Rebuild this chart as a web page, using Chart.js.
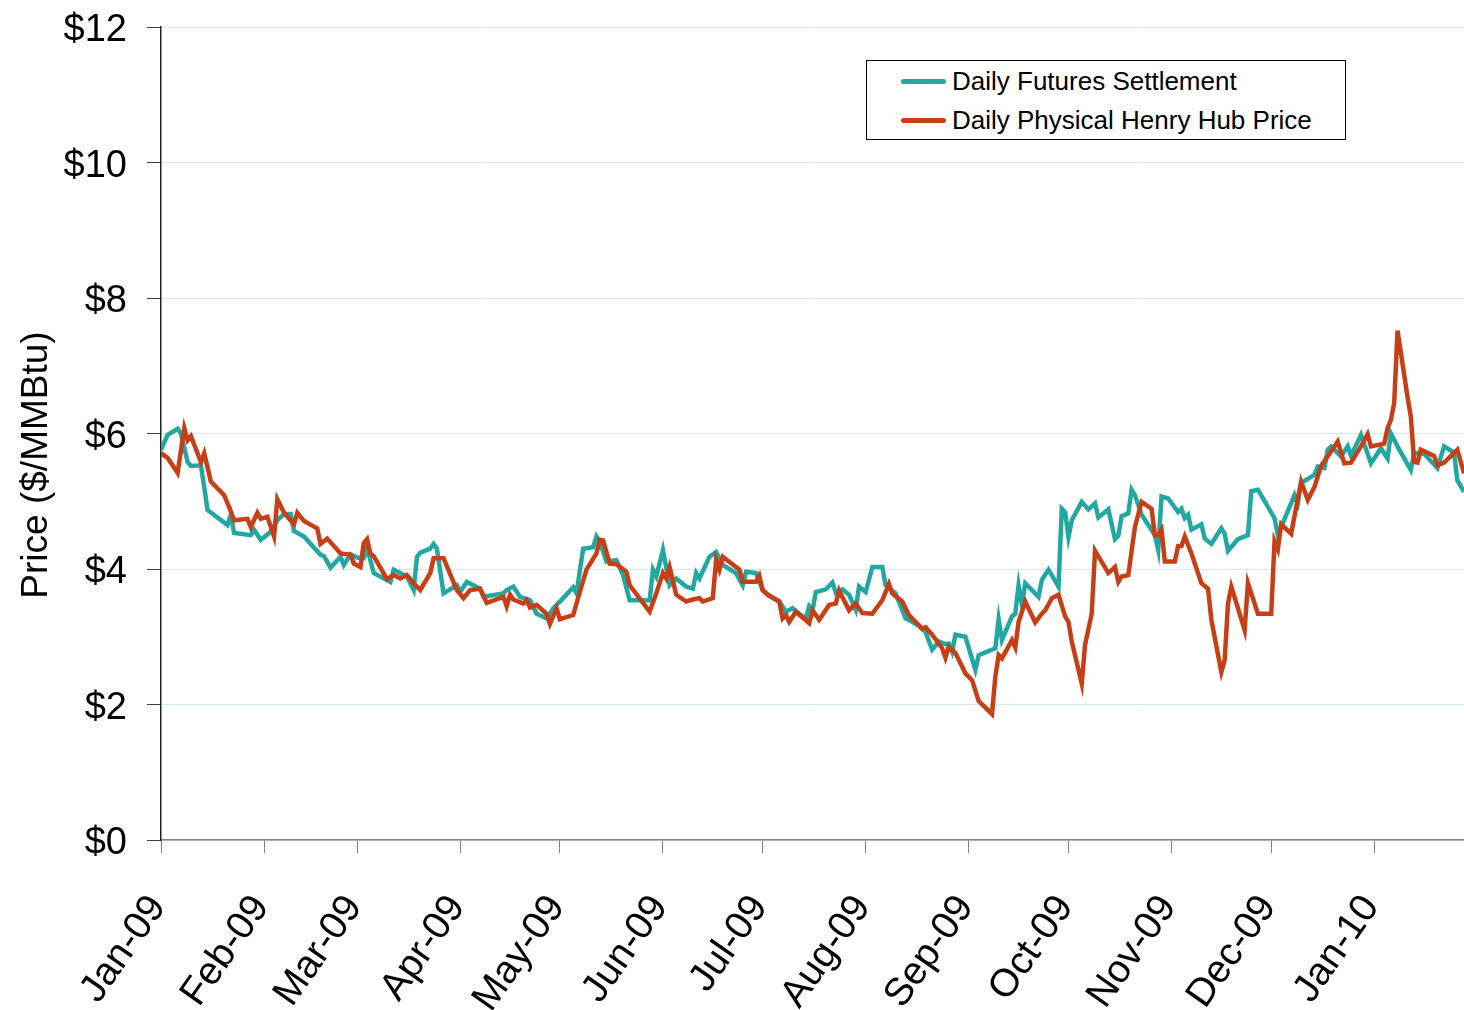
<!DOCTYPE html>
<html>
<head>
<meta charset="utf-8">
<script src="https://cdn.jsdelivr.net/npm/chart.js@4/dist/chart.umd.min.js"></script>
<style>
  html, body { margin: 0; padding: 0; background: #fff; }
  #wrap { position: relative; width: 1464px; height: 1010px; }
  #legend {
    position: absolute; left: 866px; top: 60px; width: 480px; height: 80px;
    border: 1px solid #000; background: #fff; box-sizing: border-box;
    font-family: "Liberation Sans", Arial, sans-serif; font-size: 26px; color: #000;
  }
  .item { position: absolute; left: 34px; height: 30px; display: flex; align-items: center; white-space: nowrap; }
  .swatch { width: 45px; height: 5px; border-radius: 3px; margin-right: 6px; }
</style>
</head>
<body>
<div id="wrap">
  <canvas id="priceChart" width="1464" height="1010"></canvas>
  <div id="legend"></div>
</div>
<script>
/* ─── Data (x = days since 1 Jan 2009) ─── */
const monthStarts = [0, 31, 59, 90, 120, 151, 181, 212, 243, 273, 304, 334, 365];
const monthLabels = ["Jan-09", "Feb-09", "Mar-09", "Apr-09", "May-09", "Jun-09",
  "Jul-09", "Aug-09", "Sep-09", "Oct-09", "Nov-09", "Dec-09", "Jan-10"];
const yTicks = [0, 2, 4, 6, 8, 10, 12];
const yTitle = "Price ($/MMBtu)";

const futuresDays = [0, 2, 5, 6, 8, 9, 12, 13, 14, 20, 21, 22, 27, 28, 30, 33, 35, 37, 39, 40,
  43, 48, 49, 51, 54, 55, 57, 59, 61, 62, 64, 69, 70, 74, 76, 77, 78, 81, 82, 83,
  85, 89, 90, 92, 96, 97, 103, 104, 106, 108, 111, 113, 116, 118, 121, 124, 125, 127, 130, 131,
  132, 134, 137, 139, 141, 147, 148, 149, 151, 153, 155, 158, 160, 161, 162, 165, 167, 169, 173, 175,
  176, 179, 181, 183, 186, 188, 190, 192, 194, 195, 196, 197, 200, 202, 203, 205, 207, 209, 210, 212,
  214, 217, 218, 221, 224, 226, 228, 230, 232, 234, 236, 237, 238, 239, 242, 245, 246, 251, 252, 253,
  256, 257, 258, 259, 260, 264, 265, 267, 270, 271, 272, 273, 274, 277, 279, 281, 282, 285, 287, 288,
  289, 291, 292, 293, 295, 299, 300, 301, 303, 306, 307, 308, 309, 310, 313, 314, 316, 319, 320, 321,
  324, 327, 328, 330, 335, 336, 341, 342, 343, 347, 348, 350, 351, 352, 355, 357, 358, 361, 364, 367,
  369, 370, 372, 376, 377, 380, 384, 386, 389, 390, 392];
const futuresPrice = [5.76, 5.98, 6.07, 6.00, 5.58, 5.52, 5.53, 5.21, 4.87, 4.65, 4.80, 4.53, 4.50, 4.58, 4.43, 4.55, 4.72, 4.81, 4.81, 4.56,
  4.48, 4.21, 4.19, 4.02, 4.18, 4.06, 4.22, 4.17, 4.16, 4.31, 3.94, 3.81, 3.99, 3.89, 3.69, 4.18, 4.24, 4.30, 4.37, 4.30,
  3.64, 3.76, 3.66, 3.81, 3.71, 3.59, 3.64, 3.69, 3.74, 3.59, 3.54, 3.34, 3.27, 3.42, 3.57, 3.73, 3.64, 4.30, 4.32, 4.48,
  4.40, 4.11, 4.13, 3.91, 3.54, 3.54, 3.99, 3.89, 4.28, 3.76, 3.86, 3.74, 3.71, 3.94, 3.86, 4.18, 4.25, 4.06, 3.94, 3.76,
  3.96, 3.94, 3.69, 3.60, 3.52, 3.37, 3.42, 3.34, 3.27, 3.45, 3.39, 3.66, 3.70, 3.80, 3.65, 3.70, 3.62, 3.40, 3.74, 3.66,
  4.03, 4.03, 3.76, 3.64, 3.27, 3.22, 3.16, 3.07, 2.81, 2.93, 2.89, 2.90, 2.78, 3.03, 3.00, 2.51, 2.73, 2.83, 3.26, 2.95,
  3.30, 3.34, 3.76, 3.47, 3.79, 3.59, 3.84, 3.99, 3.74, 4.89, 4.84, 4.47, 4.72, 4.99, 4.88, 4.97, 4.76, 4.88, 4.44, 4.49,
  4.78, 4.82, 5.17, 5.09, 4.80, 4.50, 4.28, 5.07, 5.04, 4.84, 4.89, 4.75, 4.80, 4.58, 4.66, 4.45, 4.37, 4.60, 4.52, 4.27,
  4.44, 4.50, 5.15, 5.17, 4.75, 4.50, 5.09, 4.97, 5.27, 5.39, 5.51, 5.49, 5.76, 5.81, 5.66, 5.81, 5.67, 5.98, 5.56, 5.78,
  5.63, 6.00, 5.81, 5.46, 5.71, 5.70, 5.49, 5.81, 5.72, 5.31, 5.14];

const physicalDays = [0, 2, 5, 7, 8, 9, 12, 13, 15, 19, 21, 22, 26, 27, 29, 30, 32, 34, 35, 37,
  40, 41, 43, 47, 48, 50, 54, 57, 58, 60, 61, 62, 63, 64, 68, 70, 72, 74, 76, 78,
  81, 82, 85, 89, 91, 93, 96, 98, 103, 104, 105, 106, 109, 110, 111, 113, 116, 117, 119, 120,
  124, 126, 128, 131, 132, 133, 135, 137, 140, 141, 147, 149, 151, 152, 153, 155, 158, 160, 162, 163,
  166, 167, 168, 169, 174, 175, 179, 180, 181, 182, 186, 187, 188, 189, 191, 195, 196, 198, 201, 203,
  204, 207, 209, 211, 214, 217, 219, 220, 223, 225, 229, 230, 232, 235, 236, 237, 239, 242, 244, 246,
  250, 251, 252, 253, 256, 257, 258, 260, 263, 265, 266, 268, 270, 272, 273, 274, 277, 278, 280, 281,
  285, 287, 288, 289, 291, 293, 295, 298, 299, 300, 301, 302, 305, 306, 307, 308, 310, 313, 315, 316,
  319, 320, 321, 322, 326, 327, 330, 334, 335, 336, 337, 340, 343, 345, 347, 349, 354, 356, 358, 361,
  363, 364, 368, 369, 370, 371, 372, 375, 376, 377, 378, 379, 383, 384, 386, 390, 392];
const physicalPrice = [5.71, 5.64, 5.42, 6.08, 5.90, 5.96, 5.58, 5.71, 5.29, 5.09, 4.85, 4.72, 4.74, 4.62, 4.83, 4.74, 4.77, 4.48, 5.03, 4.83,
  4.66, 4.83, 4.71, 4.60, 4.37, 4.45, 4.23, 4.21, 4.08, 4.03, 4.38, 4.44, 4.23, 4.19, 3.85, 3.91, 3.86, 3.91, 3.79, 3.69,
  3.94, 4.16, 4.16, 3.69, 3.57, 3.69, 3.71, 3.50, 3.59, 3.45, 3.62, 3.55, 3.49, 3.54, 3.43, 3.47, 3.34, 3.19, 3.42, 3.26,
  3.32, 3.66, 3.99, 4.23, 4.43, 4.42, 4.08, 4.07, 3.96, 3.76, 3.37, 3.64, 3.94, 3.86, 4.03, 3.62, 3.52, 3.55, 3.57, 3.52,
  3.57, 4.13, 3.99, 4.18, 3.99, 3.81, 3.81, 3.90, 3.69, 3.64, 3.52, 3.27, 3.32, 3.22, 3.37, 3.20, 3.39, 3.25, 3.47, 3.49,
  3.68, 3.39, 3.49, 3.35, 3.34, 3.54, 3.78, 3.64, 3.52, 3.32, 3.12, 3.14, 3.03, 2.83, 2.69, 2.85, 2.76, 2.46, 2.36, 2.05,
  1.86, 2.41, 2.73, 2.68, 2.95, 2.84, 3.22, 3.52, 3.21, 3.34, 3.39, 3.57, 3.62, 3.30, 3.22, 2.93, 2.31, 2.88, 3.34, 4.27,
  3.94, 4.03, 3.81, 3.89, 3.91, 4.62, 4.99, 4.89, 4.50, 4.50, 4.58, 4.11, 4.11, 4.34, 4.34, 4.48, 4.23, 3.79, 3.71, 3.25,
  2.48, 2.66, 3.49, 3.74, 3.10, 3.79, 3.34, 3.34, 4.41, 4.29, 4.66, 4.52, 5.29, 5.02, 5.21, 5.52, 5.88, 5.56, 5.57, 5.81,
  5.99, 5.81, 5.85, 6.08, 6.20, 6.45, 7.52, 6.54, 6.25, 5.58, 5.57, 5.76, 5.67, 5.53, 5.57, 5.76, 5.41];

const toPoints = (xs, ys) => xs.map((x, i) => ({ x: x, y: ys[i] }));

/* ─── Chart ─── */
const FONT = "'Liberation Sans', Arial, sans-serif";
Chart.defaults.font.family = FONT;
Chart.defaults.color = "#000";

// y-axis title, drawn a little below the plot centre like the original
const yTitlePlugin = {
  id: "yTitle",
  afterDraw(chart) {
    const c = chart.ctx;
    c.save();
    c.translate(37, 465);
    c.rotate(-Math.PI / 2);
    c.font = "37px " + FONT;
    c.fillStyle = "#000";
    c.textAlign = "center";
    c.textBaseline = "middle";
    c.fillText(yTitle, 0, 0);
    c.restore();
  },
};

const ctx = document.getElementById("priceChart");
const chart = new Chart(ctx, {
  type: "line",
  data: {
    datasets: [
      {
        label: "Daily Futures Settlement",
        data: toPoints(futuresDays, futuresPrice),
        borderColor: "#22a8a1",
        backgroundColor: "#22a8a1",
        borderWidth: 4.5,
        pointRadius: 0,
        tension: 0,
        order: 1,
      },
      {
        label: "Daily Physical Henry Hub Price",
        data: toPoints(physicalDays, physicalPrice),
        borderColor: "#c63f16",
        backgroundColor: "#c63f16",
        borderWidth: 4.5,
        pointRadius: 0,
        tension: 0,
        order: 0,
      },
    ],
  },
  plugins: [yTitlePlugin],
  options: {
    responsive: false,
    animation: false,
    layout: { padding: { top: 27, right: 0, left: 0, bottom: 0 } },
    plugins: {
      legend: { display: false },
      tooltip: { enabled: false },
    },
    scales: {
      x: {
        type: "linear",
        min: 0,
        max: 392,
        afterBuildTicks: (scale) => {
          scale.ticks = monthStarts.map((v) => ({ value: v }));
        },
        afterFit: (scale) => { scale.height = 170; },
        ticks: {
          autoSkip: false,
          minRotation: 55,
          maxRotation: 55,
          padding: 34,
          labelOffset: -3,
          font: { size: 39 },
          color: "#000",
          callback: (v) => monthLabels[monthStarts.indexOf(v)],
        },
        grid: {
          drawOnChartArea: false,
          tickLength: 13,
          tickColor: "#808080",
          color: "#808080",
        },
        border: { color: "#808080", width: 1.5 },
      },
      y: {
        min: 0,
        max: 12,
        afterBuildTicks: (scale) => {
          scale.ticks = yTicks.map((v) => ({ value: v }));
        },
        afterFit: (scale) => {
          scale.width = 161;
          scale.paddingTop = 0;
          scale.paddingBottom = 0;
        },
        ticks: {
          padding: 20,
          labelOffset: 4,
          font: { size: 38 },
          color: "#000",
          callback: (v) => "$" + v,
        },
        grid: {
          color: "#d6e8e8",
          lineWidth: 1,
          tickLength: 14,
          tickColor: "#404040",
        },
        border: { color: "#202020", width: 1.5 },
      },
    },
  },
});

/* ─── Legend ─── */
const legend = document.getElementById("legend");
chart.data.datasets.forEach((ds, i) => {
  const row = document.createElement("div");
  row.className = "item";
  row.style.top = (5 + i * 39) + "px";
  row.innerHTML = '<span class="swatch" style="background:' + ds.borderColor + '"></span>' + ds.label;
  legend.appendChild(row);
});
</script>
</body>
</html>
